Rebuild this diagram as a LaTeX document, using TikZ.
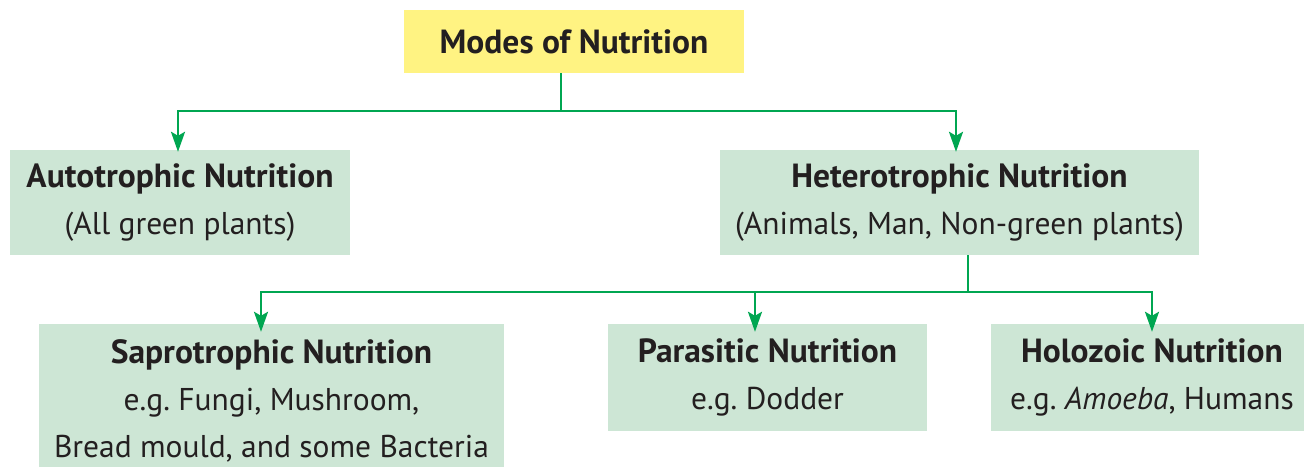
\documentclass[tikz,border=0pt]{standalone}
\usepackage{fontspec}
\setmainfont{PT Sans}
\usetikzlibrary{arrows.meta}
\definecolor{boxyellow}{RGB}{255,243,130}
\definecolor{boxgreen}{RGB}{205,230,213}
\definecolor{linegreen}{RGB}{0,166,81}
\definecolor{textblack}{RGB}{35,31,32}
\newcommand{\boxtitle}[1]{{\fontsize{33.5}{47}\selectfont\bfseries #1}}

\begin{document}
\begin{tikzpicture}[x=1pt, y=-1pt,
    box/.style={rectangle, fill=boxgreen, text=textblack, align=center, inner sep=0pt,
        font=\fontsize{31.5}{47}\selectfont\frenchspacing},
    link/.style={draw=linegreen, line width=2.5pt},
    arrow/.style={link, -{Stealth[length=20pt, width=14pt, inset=4pt]}}]
        \useasboundingbox (0,0) rectangle (1304,466);

        % Boxes
        \node[box, fill=boxyellow, minimum width=340pt, minimum height=63pt] (modes) at (574,41.5) {\boxtitle{Modes of Nutrition}};
        \node[box, minimum width=340pt, minimum height=105pt] (auto) at (180,202.5) {\boxtitle{Autotrophic Nutrition}\\(All green plants)};
        \node[box, minimum width=479pt, minimum height=105pt] (hetero) at (959.5,202.5) {\boxtitle{Heterotrophic Nutrition}\\(Animals, Man, Non-green plants)};
        \node[box, minimum width=465pt, minimum height=153pt] (sapro) at (271.5,400.5) {\boxtitle{Saprotrophic Nutrition}\\e.g. Fungi, Mushroom,\\Bread mould, and some Bacteria};
        \node[box, minimum width=319pt, minimum height=107pt] (para) at (767.5,377.5) {\boxtitle{Parasitic Nutrition}\\e.g. Dodder};
        \node[box, minimum width=322pt, minimum height=107pt] (holo) at (1152,377.5) {\boxtitle{Holozoic Nutrition}\\e.g. \textit{Amoeba}, Humans};

        % Forks
        \coordinate (fork1) at (561,111);
        \coordinate (fork2) at (968,292);

        % Connectors
        \draw[link] (modes.south -| fork1) -- (fork1);
        \draw[arrow, shorten >=-2pt] (fork1) -| ([xshift=-2pt]auto.north);
        \draw[arrow, shorten >=-2pt] (fork1) -| ([xshift=-3.5pt]hetero.north);
        \draw[link] (hetero.south -| fork2) -- (fork2);
        \draw[arrow, shorten >=-8pt] (fork2) -| ([xshift=-10.5pt]sapro.north);
        \draw[arrow, shorten >=-8pt] (fork2) -| ([xshift=-12.5pt]para.north);
        \draw[arrow, shorten >=-8pt] (fork2) -| (holo.north);
    \end{tikzpicture}
\end{document}
